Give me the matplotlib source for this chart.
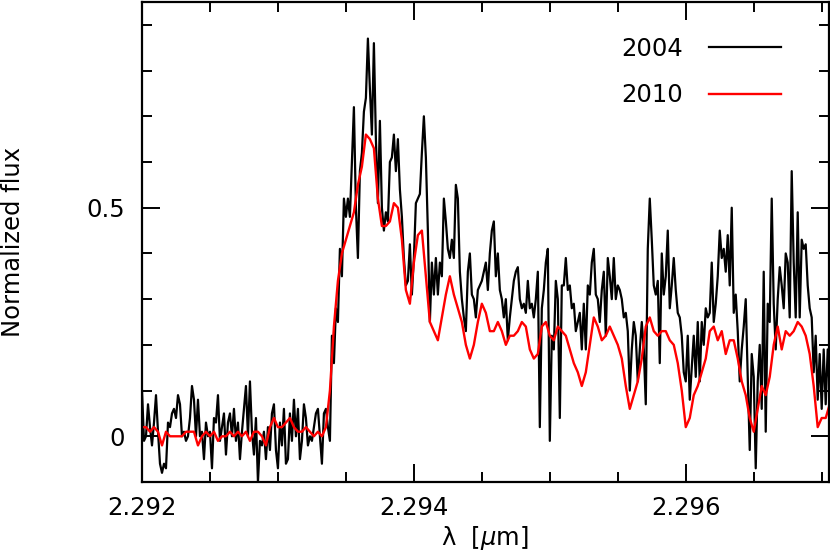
import numpy as np
import matplotlib
matplotlib.use("Agg")
import matplotlib.pyplot as plt
from matplotlib.ticker import MultipleLocator

# Wavelength range of the spectra (micron)
lam_start = 2.292
lam_end = 2.2970588

# 2004 spectrum (normalized flux), uniform wavelength grid
flux_2004 = [
    0.10, -0.01, 0.00, 0.07, 0.02, -0.02, 0.03, 0.09, 0.01, -0.06,
    -0.08, -0.06, -0.07, 0.03, 0.02, 0.05, 0.06, 0.04, 0.09, 0.07,
    0.00, 0.01, -0.01, 0.00, 0.04, 0.11, 0.08, 0.00, 0.08, 0.00,
    0.01, -0.05, 0.03, 0.00, 0.01, -0.07, 0.04, 0.03, 0.09, -0.01,
    0.02, 0.05, -0.04, 0.03, 0.05, 0.00, 0.06, -0.01, 0.03, -0.05,
    0.01, 0.06, 0.11, 0.00, 0.12, 0.01, -0.04, 0.04, -0.10, -0.01,
    -0.02, 0.01, -0.05, 0.02, -0.03, 0.05, 0.07, -0.03, -0.07, 0.03,
    -0.02, 0.06, -0.06, -0.05, 0.05, -0.01, 0.08, 0.00, 0.06, -0.05,
    -0.01, 0.07, 0.04, -0.02, 0.00, -0.01, 0.02, 0.05, 0.06, 0.00,
    -0.06, 0.05, 0.06, 0.02, -0.01, 0.22, 0.16, 0.28, 0.25, 0.41,
    0.35, 0.52, 0.48, 0.52, 0.48, 0.60, 0.72, 0.50, 0.39, 0.58,
    0.62, 0.71, 0.74, 0.87, 0.76, 0.66, 0.86, 0.65, 0.51, 0.69,
    0.50, 0.45, 0.49, 0.47, 0.60, 0.61, 0.66, 0.58, 0.65, 0.54,
    0.48, 0.39, 0.33, 0.34, 0.42, 0.31, 0.39, 0.51, 0.52, 0.53,
    0.62, 0.70, 0.61, 0.45, 0.25, 0.38, 0.31, 0.39, 0.31, 0.38,
    0.35, 0.52, 0.47, 0.41, 0.39, 0.43, 0.39, 0.55, 0.52, 0.36,
    0.30, 0.26, 0.23, 0.36, 0.40, 0.31, 0.30, 0.26, 0.32, 0.33,
    0.34, 0.36, 0.38, 0.32, 0.40, 0.45, 0.47, 0.35, 0.40, 0.32,
    0.30, 0.26, 0.30, 0.21, 0.26, 0.30, 0.34, 0.36, 0.37, 0.30,
    0.28, 0.29, 0.27, 0.34, 0.28, 0.29, 0.26, 0.30, 0.36, 0.02,
    0.28, 0.32, 0.38, 0.41, -0.01, 0.22, 0.19, 0.34, 0.30, 0.04,
    0.33, 0.33, 0.39, 0.32, 0.33, 0.28, 0.29, 0.23, 0.25, 0.27,
    0.19, 0.29, 0.19, 0.33, 0.31, 0.38, 0.41, 0.31, 0.30, 0.25,
    0.32, 0.36, 0.22, 0.39, 0.35, 0.30, 0.39, 0.30, 0.33, 0.32,
    0.30, 0.26, 0.27, 0.23, 0.10, 0.19, 0.25, 0.22, 0.12, 0.19,
    0.25, 0.19, 0.07, 0.41, 0.52, 0.43, 0.33, 0.31, 0.34, 0.16,
    0.40, 0.31, 0.35, 0.45, 0.28, 0.33, 0.39, 0.32, 0.27, 0.26,
    0.22, 0.14, 0.12, 0.22, 0.08, 0.15, 0.22, 0.13, 0.25, 0.12,
    0.25, 0.20, 0.28, 0.26, 0.27, 0.38, 0.25, 0.29, 0.35, 0.45,
    0.39, 0.41, 0.36, 0.44, 0.33, 0.50, 0.27, 0.31, 0.23, 0.12,
    0.19, 0.24, 0.30, 0.13, -0.03, 0.18, 0.13, -0.07, 0.12, 0.20,
    0.06, 0.36, 0.01, 0.29, 0.25, 0.52, 0.29, 0.19, 0.30, 0.37,
    0.33, 0.28, 0.40, 0.38, 0.26, 0.58, 0.38, 0.26, 0.49, 0.26,
    0.43, 0.41, 0.42, 0.33, 0.28, 0.26, 0.14, 0.22, 0.08, 0.18,
    0.06, 0.19, 0.07, 0.19, 0.10,
]

# 2010 spectrum (normalized flux), uniform wavelength grid
flux_2010 = [
    0.02, 0.02, 0.01, 0.02, 0.01, -0.02, 0.01, 0.00, 0.00, 0.00,
    0.00, 0.01, 0.01, 0.01, -0.02, 0.00, 0.01, 0.00, 0.01, -0.01,
    0.00, 0.00, 0.01, 0.00, 0.01, 0.00, 0.01, -0.01, 0.01, 0.01,
    0.00, -0.02, 0.02, 0.04, 0.02, 0.02, 0.03, 0.04, 0.02, 0.01,
    0.01, 0.02, 0.01, 0.00, 0.01, 0.00, 0.02, 0.10, 0.24, 0.34,
    0.40, 0.43, 0.46, 0.49, 0.55, 0.59, 0.66, 0.65, 0.63, 0.52,
    0.46, 0.46, 0.47, 0.51, 0.50, 0.43, 0.32, 0.29, 0.38, 0.44,
    0.45, 0.35, 0.25, 0.23, 0.21, 0.26, 0.31, 0.35, 0.31, 0.28,
    0.25, 0.20, 0.17, 0.20, 0.25, 0.29, 0.27, 0.23, 0.23, 0.25,
    0.23, 0.20, 0.22, 0.22, 0.23, 0.25, 0.24, 0.19, 0.17, 0.18,
    0.24, 0.25, 0.22, 0.21, 0.24, 0.23, 0.22, 0.19, 0.16, 0.14,
    0.11, 0.14, 0.20, 0.26, 0.24, 0.21, 0.22, 0.24, 0.22, 0.20,
    0.17, 0.11, 0.06, 0.09, 0.12, 0.17, 0.24, 0.26, 0.23, 0.22,
    0.23, 0.23, 0.21, 0.20, 0.16, 0.10, 0.02, 0.04, 0.09, 0.11,
    0.14, 0.17, 0.23, 0.24, 0.21, 0.23, 0.18, 0.21, 0.21, 0.17,
    0.12, 0.09, 0.04, 0.01, 0.06, 0.11, 0.09, 0.13, 0.20, 0.24,
    0.19, 0.23, 0.22, 0.23, 0.25, 0.24, 0.22, 0.18, 0.11, 0.02,
    0.04, 0.04, 0.07,
]

labels = ["2004", "2010"]
colors = ["black", "#ff0000"]

xticks_major = [2.292, 2.294, 2.296]
yticks_major = [0.0, 0.5]
ytick_labels = ["0", "0.5"]

plt.rcParams['font.family'] = ['DejaVu Sans']
plt.rcParams['mathtext.fontset'] = 'dejavusans'

fig = plt.figure(figsize=(8.30, 5.52), dpi=100)
ax = fig.add_axes([142/830, 1 - 482/552, 686.5/830, 480/552])

lam_2004 = np.linspace(lam_start, lam_end, len(flux_2004))
lam_2010 = np.linspace(lam_start, lam_end, len(flux_2010))

ax.plot(lam_2004, flux_2004, color=colors[0], lw=1.6, label=labels[0])
ax.plot(lam_2010, flux_2010, color=colors[1], lw=1.7, label=labels[1])

ax.set_xlim(2.292, 2.29705)
ax.set_ylim(-0.1, 0.95)

ax.set_xticks(xticks_major)
ax.set_xticklabels([f"{v:.3f}" for v in xticks_major])
ax.xaxis.set_minor_locator(MultipleLocator(0.0005))
ax.set_yticks(yticks_major)
ax.set_yticklabels(ytick_labels)
ax.yaxis.set_minor_locator(MultipleLocator(0.1))

ax.tick_params(axis='both', which='both', direction='in', top=True, right=True,
               width=1.4, labelsize=17.5, colors='black')
ax.tick_params(axis='x', which='major', length=13, pad=10)
ax.tick_params(axis='x', which='minor', length=7)
ax.tick_params(axis='y', which='major', length=13, pad=12)
ax.tick_params(axis='y', which='minor', length=7)

for s in ax.spines.values():
    s.set_linewidth(1.6)

ax.set_xlabel('λ  [$\\mu$m]', fontsize=17.5)
ax.set_ylabel('Normalized flux', fontsize=17.5)
ax.xaxis.set_label_coords(0.5, -0.088)
ax.yaxis.set_label_coords(-0.170, 0.5)

leg = ax.legend(loc='upper right', bbox_to_anchor=(0.945, 0.948), frameon=False,
                markerfirst=False, fontsize=17.5, handlelength=2.95,
                handletextpad=1.1, labelspacing=0.92, borderaxespad=0)

fig.savefig("out.png", dpi=100)
